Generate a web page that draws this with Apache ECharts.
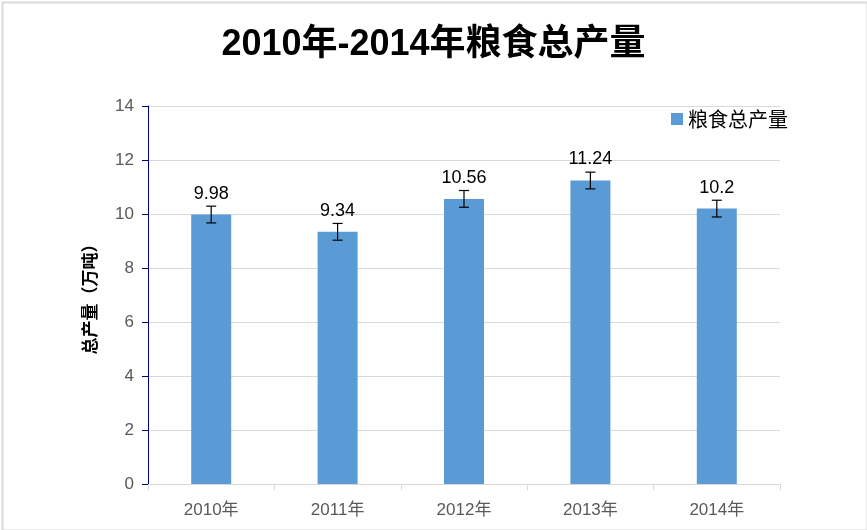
<!DOCTYPE html>
<html><head><meta charset="utf-8">
<script src="https://cdn.jsdelivr.net/npm/echarts@6/dist/echarts.min.js"></script>
<style>html,body{margin:0;padding:0;background:#fff}#c{width:867px;height:530px}</style>
</head><body><div id="c"></div>
<script>
const categories = ['2010年','2011年','2012年','2013年','2014年'];
const values = [9.98, 9.34, 10.56, 11.24, 10.2];
const errors = [0.31, 0.31, 0.31, 0.31, 0.31];
const yTicks = [0, 2, 4, 6, 8, 10, 12, 14];
const seriesName = '粮食总产量';
const titleText = '2010年-2014年粮食总产量';
const yName = '总产量（万吨）';

const chart = echarts.init(document.getElementById('c'));
const errData = values.map((v, i) => [i, v - errors[i], v + errors[i]]);
chart.setOption({
  animation: false,
  backgroundColor: '#fff',
  graphic: [{type:'rect', left:0, top:0, shape:{x:1,y:1,width:865,height:528}, style:{fill:'none', stroke:'#d9d9d9', lineWidth:2}, silent:true}],
  title: {text: titleText, left: 'center', top: 22,
    textStyle: {fontFamily: 'Liberation Sans, Noto Sans CJK SC', fontWeight: 'bold', fontSize: 36, color: '#000'}},
  legend: {data: [seriesName], left: 666, top: 104, itemWidth: 12, itemHeight: 12, icon: 'rect', itemGap: 6,
    textStyle: {fontFamily: 'Noto Sans CJK SC', fontSize: 20, color: '#000'}},
  grid: {left: 148, right: 87, top: 106, bottom: 46},
  xAxis: {type: 'category', data: categories,
    axisLine: {lineStyle: {color: '#d9d9d9', width: 1}},
    axisTick: {show: true, length: 6, lineStyle: {color: '#d9d9d9'}},
    axisLabel: {color: '#595959', fontSize: 17, margin: 18, fontFamily: 'Liberation Sans, Noto Sans CJK SC'}},
  yAxis: {type: 'value', min: yTicks[0], max: yTicks[yTicks.length-1], interval: 2,
    name: yName, nameLocation: 'middle', nameGap: 50, nameRotate: 90,
    nameTextStyle: {fontFamily: 'Noto Sans CJK SC', fontWeight: 'bold', fontSize: 17, color: '#000'},
    axisLine: {show: true, lineStyle: {color: '#000080', width: 1}},
    axisTick: {show: true, length: 6, lineStyle: {color: '#000080'}},
    axisLabel: {color: '#595959', fontSize: 17, margin: 14, fontFamily: 'Liberation Sans'},
    splitLine: {lineStyle: {color: '#d9d9d9'}}},
  series: [
    {name: seriesName, type: 'bar', data: values, barWidth: 40, itemStyle: {color: '#5b9bd5'},
     label: {show: true, position: 'top', distance: 12, color: '#000', fontSize: 18, fontFamily: 'Liberation Sans'}},
    {type: 'custom', data: errData, z: 10, silent: true,
     renderItem: function(params, api) {
       const x = api.value(0);
       const lo = api.coord([x, api.value(1)]);
       const hi = api.coord([x, api.value(2)]);
       const hw = 5;
       const st = {stroke: '#000', lineWidth: 1.2};
       return {type: 'group', children: [
         {type: 'line', shape: {x1: lo[0], y1: lo[1], x2: hi[0], y2: hi[1]}, style: st},
         {type: 'line', shape: {x1: lo[0]-hw, y1: lo[1], x2: lo[0]+hw, y2: lo[1]}, style: st},
         {type: 'line', shape: {x1: hi[0]-hw, y1: hi[1], x2: hi[0]+hw, y2: hi[1]}, style: st}
       ]};
     }}
  ]
});
</script></body></html>
